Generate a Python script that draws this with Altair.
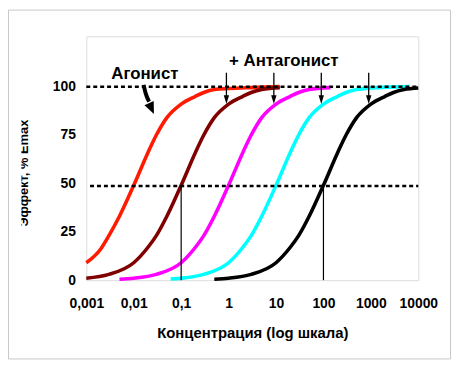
import altair as alt
import pandas as pd

FONT = "Liberation Sans"

series = ["Агонист", "Антагонист 1", "Антагонист 2", "Антагонист 3", "Антагонист 4"]
colors = ["#ff1a00", "#800000", "#ff00ff", "#00ffff", "#000000"]

red_x = [0.001, 0.002, 0.003, 0.005, 0.01, 0.02, 0.03, 0.05, 0.1, 0.2, 0.3, 0.5, 1, 3, 12]
red_y = [9, 16, 23, 33, 49, 66, 75, 84, 91, 95, 97, 98.5, 99, 99.5, 100]

maroon_x = [0.001, 0.003, 0.01, 0.02, 0.03, 0.05, 0.1, 0.2, 0.3, 0.5, 1, 2, 3, 5, 12]
maroon_y = [1, 3, 9, 17, 23, 33, 49, 66, 75, 84, 91, 95, 97, 98.5, 99.5]

magenta_x = [0.005, 0.01, 0.03, 0.1, 0.2, 0.3, 0.5, 1, 2, 3, 5, 10, 20, 30, 50, 140]
magenta_y = [0.5, 1, 3, 9, 17, 23, 33, 49, 66, 75, 84, 91, 95, 97, 98.5, 99.5]

cyan_x = [0.06, 0.1, 0.3, 1, 2, 3, 5, 10, 20, 30, 50, 100, 200, 300, 500, 1000, 6500]
cyan_y = [0.6, 1, 3, 9, 17, 23, 33, 49, 66, 75, 84, 91, 95, 97, 98.5, 99.3, 100]

black_x = [0.5, 1, 3, 10, 20, 30, 50, 100, 200, 300, 500, 1000, 2000, 3000, 5000, 10000]
black_y = [0.5, 1, 3, 9, 17, 23, 33, 49, 66, 75, 84, 91, 95, 97, 98.5, 99.3]

x_ticks = [0.001, 0.01, 0.1, 1, 10, 100, 1000, 10000]
y_ticks = [0, 25, 50, 75, 100]

# reference lines
hline_y = [100, 48.6]
hline_x1 = [0.001, 0.0012]
hline_x2 = [10000, 10000]
vline_x = [0.1, 100]
vline_top = 48.6

# antagonist arrows (pointing at 90% points)
arrow_x = [0.9, 9, 90, 900]
arrow_top = 107.2
arrow_shaft_end = 94.5
arrow_head_y = 93.3

# agonist arrow
ag_arrow_x = [0.01614, 0.01774, 0.02104]
ag_arrow_y = [100.9, 96.8, 92.2]
ag_head_x = [0.0237]
ag_head_y = [88.7]

labels_text = ["Агонист", "+ Антагонист"]
labels_x = [0.0172, 14.6]
labels_y = [106.7, 113.2]

rows = []
for name, xs, ys in zip(series,
                        [red_x, maroon_x, magenta_x, cyan_x, black_x],
                        [red_y, maroon_y, magenta_y, cyan_y, black_y]):
    for i, (a, b) in enumerate(zip(xs, ys)):
        rows.append({"series": name, "conc": a, "effect": b, "i": i})
curves_df = pd.DataFrame(rows)

xscale = alt.Scale(type="log", domain=[0.001, 10000], nice=False)
yscale = alt.Scale(domain=[0, 126], nice=False, zero=False)

label_expr = "datum.value < 1 ? replace(toString(datum.value), '.', ',') : toString(datum.value)"

x_axis = alt.Axis(values=x_ticks, labelExpr=label_expr, grid=False, ticks=False, tickSize=0,
                  domain=False, labelFont=FONT, labelFontWeight="bold", labelFontSize=14,
                  labelColor="black", labelPadding=17, labelFlush=False, labelOverlap=False,
                  title="Концентрация (log шкала)", titleFont=FONT, titleFontWeight="bold",
                  titleFontSize=15, titleColor="black", titleY=53, titleBaseline="middle")
y_axis = alt.Axis(values=y_ticks, grid=False, ticks=False, tickSize=0, domain=False,
                  labelFont=FONT, labelFontWeight="bold", labelFontSize=14, labelColor="black",
                  labelPadding=11, labelFlush=False, title=None)

curves = alt.Chart(curves_df).mark_line(strokeWidth=3.6, interpolate="monotone").encode(
    x=alt.X("conc:Q", scale=xscale, axis=x_axis),
    y=alt.Y("effect:Q", scale=yscale, axis=y_axis),
    color=alt.Color("series:N", scale=alt.Scale(domain=series, range=colors), legend=None),
    detail="series:N",
    order="i:Q",
)

hl_df = pd.DataFrame({"x1": hline_x1, "x2": hline_x2, "y": hline_y})
hlines = alt.Chart(hl_df).mark_rule(color="black", strokeWidth=2.5, strokeDash=[4, 3]).encode(
    x=alt.X("x1:Q", scale=xscale), x2="x2:Q", y=alt.Y("y:Q", scale=yscale)
)

vl_df = pd.DataFrame({"x": vline_x, "y1": [0, 0], "y2": [vline_top, vline_top]})
vlines = alt.Chart(vl_df).mark_rule(color="black", strokeWidth=1.2).encode(
    x=alt.X("x:Q", scale=xscale), y=alt.Y("y1:Q", scale=yscale), y2="y2:Q"
)

ar_df = pd.DataFrame({"x": arrow_x, "y1": [arrow_top] * 4, "y2": [arrow_shaft_end] * 4,
                      "yh": [arrow_head_y] * 4})
shafts = alt.Chart(ar_df).mark_rule(color="black", strokeWidth=1.3).encode(
    x=alt.X("x:Q", scale=xscale), y=alt.Y("y1:Q", scale=yscale), y2="y2:Q"
)
heads = alt.Chart(ar_df).mark_point(shape="M-0.6,-1L0.6,-1L0,1Z", size=81, filled=True,
                                    color="black", opacity=1).encode(
    x=alt.X("x:Q", scale=xscale), y=alt.Y("yh:Q", scale=yscale)
)

ag_df = pd.DataFrame({"x": ag_arrow_x, "y": ag_arrow_y, "i": list(range(len(ag_arrow_x)))})
ag_line = alt.Chart(ag_df).mark_line(color="black", strokeWidth=4, interpolate="monotone").encode(
    x=alt.X("x:Q", scale=xscale), y=alt.Y("y:Q", scale=yscale), order="i:Q"
)
agh_df = pd.DataFrame({"x": ag_head_x, "y": ag_head_y})
ag_head = alt.Chart(agh_df).mark_point(shape="M-0.85,-1L0.85,-1L0,1Z", size=144, filled=True,
                                       color="black", opacity=1, angle=336).encode(
    x=alt.X("x:Q", scale=xscale), y=alt.Y("y:Q", scale=yscale)
)

lab_df = pd.DataFrame({"t": labels_text, "x": labels_x, "y": labels_y})
labels = alt.Chart(lab_df).mark_text(font=FONT, fontWeight="bold", fontSize=17, color="black",
                                     align="center", baseline="middle").encode(
    x=alt.X("x:Q", scale=xscale), y=alt.Y("y:Q", scale=yscale), text="t:N"
)

one = pd.DataFrame({"t": ["Эффект, % Emax"]})
ytitle = alt.Chart(one).mark_text(font=FONT, fontWeight="bold", fontSize=13, color="black",
                                  angle=270, align="center", baseline="alphabetic").encode(
    x=alt.value(-59), y=alt.value(138), text="t:N"
)
cover = alt.Chart(one).mark_rect(color="white", opacity=1).encode(
    x=alt.value(-80), x2=alt.value(-65.5), y=alt.value(-27), y2=alt.value(329)
)
frame = alt.Chart(one).mark_rect(fillOpacity=0, stroke="#c8c8c8", strokeWidth=1).encode(
    x=alt.value(-78.5), x2=alt.value(367.5), y=alt.value(-26.5), y2=alt.value(325.5)
)

chart = alt.layer(curves, hlines, vlines, shafts, heads, ag_line, ag_head, labels,
                  ytitle, cover, frame).properties(
    width=335, height=246,
    autosize=alt.AutoSizeParams(type="none"),
    padding={"left": 79, "top": 27, "right": 35, "bottom": 83},
).configure_view(stroke="#808080", strokeWidth=1.5).configure(background="white")

chart.save("out.html", embed_options={"renderer": "svg", "actions": False})
